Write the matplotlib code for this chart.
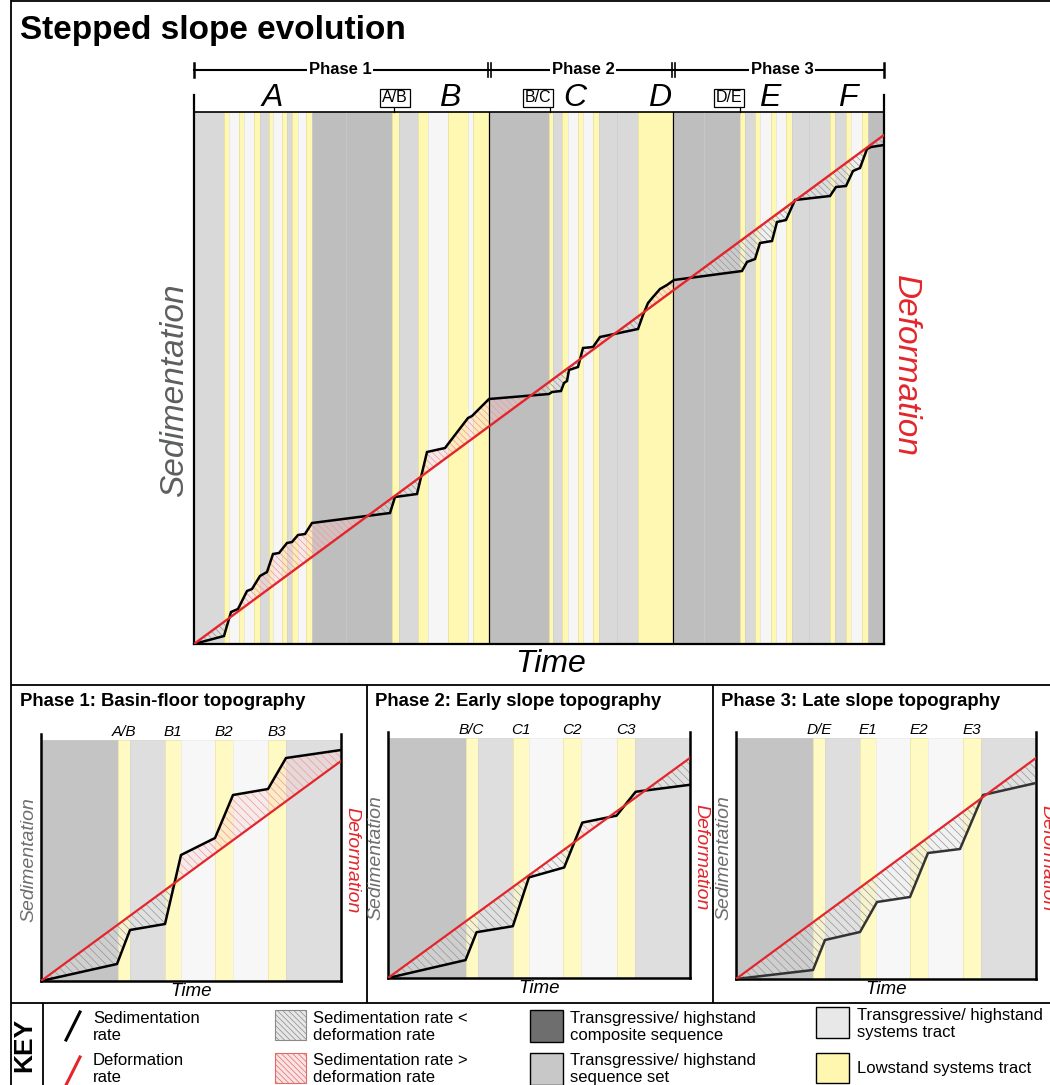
import numpy as np
import matplotlib.pyplot as plt
from matplotlib.patches import Rectangle

plt.rcParams['font.family'] = ['Liberation Sans', 'DejaVu Sans']
plt.rcParams['hatch.linewidth'] = 0.5

# ---------------- data ----------------
# main panel: time and sedimentation in arbitrary units
main_edges = [0, 30, 35, 45, 50, 60, 66, 75, 79, 88, 93, 98, 104, 112, 118, 152, 198, 205, 224, 234,
              254, 274, 279, 295, 355, 359, 368, 374, 384, 389, 399, 405, 423, 444, 480, 510, 546, 551,
              561, 566, 577, 582, 592, 598, 615, 636, 641, 652, 657, 668, 674, 690]
main_kinds = ['light', 'yellow', 'white', 'yellow', 'white', 'yellow', 'light', 'yellow', 'white', 'yellow',
              'light', 'yellow', 'white', 'yellow', 'dark', 'dark', 'yellow', 'light', 'yellow', 'white',
              'yellow', 'white', 'yellow', 'dark', 'yellow', 'light', 'yellow', 'white', 'yellow', 'white',
              'yellow', 'light', 'light', 'yellow', 'dark', 'dark', 'yellow', 'light', 'yellow', 'white',
              'yellow', 'white', 'yellow', 'light', 'light', 'yellow', 'light', 'yellow', 'white', 'yellow',
              'dark']
main_time = [0, 30, 37, 44, 53, 58, 66, 73, 79, 85, 93, 98, 104, 111, 118, 196, 201, 223, 233, 251,
             274, 278, 295, 355, 358, 367, 370, 373, 375, 384, 389, 399, 406, 444, 449, 454, 459, 466,
             473, 480, 548, 553, 561, 566, 578, 583, 592, 601, 636, 642, 652, 659, 666, 673, 677, 690]
main_sed = [0, 8, 32, 35, 53, 55, 68, 72, 90, 91, 101, 102, 109, 110, 121, 131, 147, 150, 192, 196,
            226, 228, 245, 250, 252, 253, 261, 263, 274, 277, 296, 297, 307, 315, 329, 341, 347, 355,
            359, 364, 373, 382, 385, 401, 403, 422, 424, 444, 448, 457, 458, 473, 476, 495, 497, 499]
main_def_time = [0, 690]
main_def = [0, 509]

phase_names = ['Phase 1', 'Phase 2', 'Phase 3']
phase_label_pos = [146, 389, 588]
phase_splits = [296, 480]
stage_letters = ['A', 'B', 'C', 'D', 'E', 'F']
stage_pos = [78, 256, 381, 466, 576, 654]
boundary_names = ['A/B', 'B/C', 'D/E']
boundary_box = [201, 344, 535]
boundary_tick = [200, 356, 546]

# small panels
small_edges = [0, 77, 89, 124, 140, 174, 192, 227, 245, 300]
small_kinds = ['dark', 'yellow', 'light', 'yellow', 'white', 'yellow', 'white', 'yellow', 'light']

p1_title = 'Phase 1: Basin-floor topography'
p1_labels = ['A/B', 'B1', 'B2', 'B3']
p1_time = [0, 76, 89, 124, 140, 174, 192, 227, 245, 300]
p1_sed = [0, 17, 51, 57, 126, 143, 186, 192, 223, 231]
p1_def = [0, 220]

p2_title = 'Phase 2: Early slope topography'
p2_labels = ['B/C', 'C1', 'C2', 'C3']
p2_time = [0, 77, 88, 124, 140, 175, 193, 227, 246, 300]
p2_sed = [0, 18, 46, 52, 101, 111, 156, 163, 187, 194]
p2_def = [0, 221]

p3_title = 'Phase 3: Late slope topography'
p3_labels = ['D/E', 'E1', 'E2', 'E3']
p3_time = [0, 77, 89, 124, 141, 174, 192, 224, 247, 300]
p3_sed = [0, 9, 39, 47, 77, 82, 126, 130, 184, 196]
p3_def = [0, 221]

RED = '#e3262b'
GREY_TXT = '#5d5e60'


def draw_bands(ax, edges, kinds, top, pal, epal):
    edges = np.array(edges, float)
    ax.bar(edges[:-1], top, width=np.diff(edges), align='edge',
           color=[pal[k] for k in kinds], edgecolor=[epal[k] for k in kinds],
           linewidth=0.6, zorder=0)


def shade(ax, t, sed, dt, dv, hatch):
    t = np.asarray(t, float)
    sed = np.asarray(sed, float)
    d = np.interp(t, dt, dv)
    ax.fill_between(t, sed, d, where=sed <= d, interpolate=True, facecolor=(0.9, 0.9, 0.9, 0.35),
                    edgecolor='#959595', hatch=hatch, linewidth=0, zorder=1)
    ax.fill_between(t, sed, d, where=sed >= d, interpolate=True, facecolor=(0.98, 0.8, 0.8, 0.3),
                    edgecolor='#ec9a9a', hatch=hatch, linewidth=0, zorder=1)


fig = plt.figure(figsize=(10.5, 10.85), dpi=100)


def px_axes(left, top, right, bottom):
    return fig.add_axes([left / 1050, 1 - bottom / 1085, (right - left) / 1050, (bottom - top) / 1085])


# frame, titles and key drawn in pixel coordinates
frame = px_axes(0, 0, 1050, 1085)
frame.set_xlim(0, 1050)
frame.set_ylim(1085, 0)
frame.axis('off')
lw = 1.3
for xs, ys in [([11, 11], [0, 1085]), ([11, 1050], [1, 1]), ([11, 1050], [685, 685]),
               ([11, 1050], [1003, 1003]), ([367, 367], [685, 1003]), ([713, 713], [685, 1003]),
               ([43, 43], [1003, 1085])]:
    frame.plot(xs, ys, color='black', lw=lw, solid_capstyle='butt')

frame.text(20, 30, 'Stepped slope evolution', fontsize=24, fontweight='bold', va='center')
for x, t in zip([20, 375, 721], [p1_title, p2_title, p3_title]):
    frame.text(x, 702, t, fontsize=13.3, fontweight='bold', va='center')

# key
frame.text(24, 1045, 'KEY', rotation=90, fontsize=19, fontweight='bold', ha='center', va='center')
frame.plot([66, 80], [1040, 1012], color='black', lw=2.2)
frame.plot([66, 80], [1085, 1057], color=RED, lw=2.2)
frame.text(93, 1027, 'Sedimentation\nrate', fontsize=12, va='center', linespacing=1.15)
frame.text(93, 1069, 'Deformation\nrate', fontsize=12, va='center', linespacing=1.15)
frame.add_patch(Rectangle((275, 1010), 31, 30, facecolor='#e6e6e6', edgecolor='#8a8a8a',
                          hatch='\\\\\\\\\\\\', lw=0.8))
frame.add_patch(Rectangle((275, 1053), 31, 30, facecolor='#fbe3e3', edgecolor='#e06a6a',
                          hatch='\\\\\\\\\\\\', lw=0.8))
frame.text(313, 1027, 'Sedimentation rate <\ndeformation rate', fontsize=12, va='center', linespacing=1.15)
frame.text(313, 1069, 'Sedimentation rate >\ndeformation rate', fontsize=12, va='center', linespacing=1.15)
frame.add_patch(Rectangle((530, 1010), 33, 32, facecolor='#6e6e6e', edgecolor='black', lw=1))
frame.add_patch(Rectangle((530, 1053), 33, 32, facecolor='#c8c8c8', edgecolor='black', lw=1))
frame.text(570, 1027, 'Transgressive/ highstand\ncomposite sequence', fontsize=12, va='center', linespacing=1.15)
frame.text(570, 1069, 'Transgressive/ highstand\nsequence set', fontsize=12, va='center', linespacing=1.15)
frame.add_patch(Rectangle((816, 1007), 33, 31, facecolor='#e8e8e8', edgecolor='black', lw=1))
frame.add_patch(Rectangle((816, 1053), 33, 30, facecolor='#fff7b0', edgecolor='black', lw=1))
frame.text(857, 1024, 'Transgressive/ highstand\nsystems tract', fontsize=12, va='center', linespacing=1.15)
frame.text(857, 1069, 'Lowstand systems tract', fontsize=12, va='center')

# ---------------- main panel ----------------
main_pal = {'dark': '#bebebe', 'light': '#d9d9d9', 'white': '#f6f6f6', 'yellow': '#fff8b3'}
main_epal = {'dark': '#c8c8c8', 'light': '#cfcfcf', 'white': '#e8e8e8', 'yellow': '#ebe29a'}
ax = px_axes(194, 95, 884, 644)
ax.set_xlim(0, 690)
ax.set_ylim(0, 549)
draw_bands(ax, main_edges, main_kinds, 532, main_pal, main_epal)
ax.plot([0, 690], [532, 532], color='black', lw=1.2, zorder=3)
for s in phase_splits:
    ax.plot([s - 1, s - 1], [0, 532], color='black', lw=0.9, zorder=2)
shade(ax, main_time, main_sed, main_def_time, main_def, '\\\\\\\\\\')
ax.plot(main_time, main_sed, color='black', lw=1.8, zorder=4, solid_joinstyle='miter')
ax.plot(main_def_time, main_def, color=RED, lw=1.7, zorder=5)
ax.set_xticks([])
ax.set_yticks([])
ax.spines['top'].set_visible(False)
for sp in ['left', 'right', 'bottom']:
    ax.spines[sp].set_linewidth(1.6)

# phase bracket above the panel
yb = 574
ax.plot([0, 690], [yb, yb], color='black', lw=1.5, clip_on=False)
for x in [0, 690]:
    ax.plot([x, x], [yb - 7, yb + 7], color='black', lw=1.8, clip_on=False)
for s in phase_splits:
    for dx in [-2.5, 1]:
        ax.plot([s + dx, s + dx], [yb - 7, yb + 7], color='black', lw=1.2, clip_on=False)
for name, x in zip(phase_names, phase_label_pos):
    ax.text(x, yb, name, fontsize=12, fontweight='bold', ha='center', va='center',
            bbox=dict(facecolor='white', edgecolor='none', pad=1.0), clip_on=False)
for letter, x in zip(stage_letters, stage_pos):
    ax.text(x, 546, letter, fontsize=23, style='italic', ha='center', va='center', clip_on=False)
for name, xb, xt in zip(boundary_names, boundary_box, boundary_tick):
    ax.text(xb, 546, name, fontsize=11.5, ha='center', va='center', clip_on=False,
            bbox=dict(boxstyle='square,pad=0.12', facecolor='white', edgecolor='black', lw=0.9))
    ax.plot([xt, xt], [532, 538], color='black', lw=0.9, clip_on=False)

ax.text(-19, 254, 'Sedimentation', rotation=90, fontsize=24, style='italic', color=GREY_TXT,
        ha='center', va='center', clip_on=False)
ax.text(711, 278, 'Deformation', rotation=-90, fontsize=24, style='italic', color=RED,
        ha='center', va='center', clip_on=False)
ax.text(356, -20, 'Time', fontsize=23, style='italic', ha='center', va='center', clip_on=False)

# ---------------- small panels ----------------
small_pal = {'dark': '#c4c4c4', 'light': '#dedede', 'white': '#f7f7f7', 'yellow': '#fff9c4'}
small_epal = {'dark': '#c4c4c4', 'light': '#d6d6d6', 'white': '#eeeeee', 'yellow': '#efe6a6'}
panels = [
    ((41, 734, 341, 981), p1_labels, p1_time, p1_sed, p1_def, 'black'),
    ((388, 732, 690, 978), p2_labels, p2_time, p2_sed, p2_def, 'black'),
    ((736, 732, 1036, 979), p3_labels, p3_time, p3_sed, p3_def, '#333333'),
]
label_pos = [83, 132, 183, 236]
for rect, labels, t, sed, dv, lc in panels:
    a = px_axes(*rect)
    a.set_xlim(0, 300)
    a.set_ylim(0, 247)
    draw_bands(a, small_edges, small_kinds, 241, small_pal, small_epal)
    shade(a, t, sed, [0, 300], dv, '\\\\\\\\')
    a.plot(t, sed, color=lc, lw=1.8, zorder=4)
    a.plot([0, 300], dv, color=RED, lw=1.6, zorder=5)
    a.set_xticks([])
    a.set_yticks([])
    a.spines['top'].set_visible(False)
    for sp in ['left', 'right', 'bottom']:
        a.spines[sp].set_linewidth(1.8)
    for lab, x in zip(labels, label_pos):
        a.text(x, 241.5, lab, fontsize=11, style='italic', ha='center', va='bottom', clip_on=False)
    a.text(-12, 121, 'Sedimentation', rotation=90, fontsize=14, style='italic', color='#6d6e70',
           ha='center', va='center', clip_on=False)
    a.text(311, 121, 'Deformation', rotation=-90, fontsize=14, style='italic', color=RED,
           ha='center', va='center', clip_on=False)
    a.text(150, -11, 'Time', fontsize=13.5, style='italic', ha='center', va='center', clip_on=False)

fig.savefig('out.png', dpi=100)
